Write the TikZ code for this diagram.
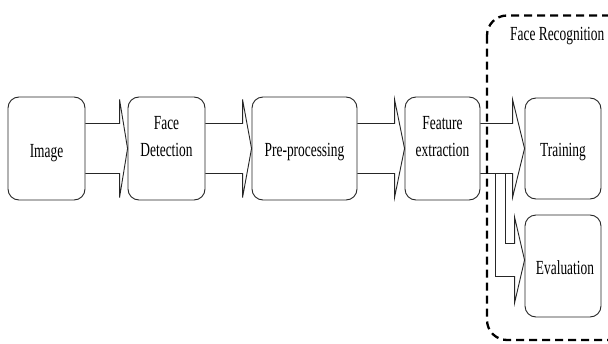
\documentclass[tikz,border=0pt]{standalone}
\usepackage{fontspec}
\setmainfont{Liberation Serif}
\newfontfamily\narrowserif[FakeStretch=0.67]{Liberation Serif}
\usetikzlibrary{calc}

% block arrow from the right side of one stage to the left side of the next
% #1 source node, #2 target node, #3 depth of the arrow head
\newcommand\stagearrow[3]{%
  \draw[arrowline] ($(#1.east)+(0,-25)$) -- ($(#2.west)+(-#3,-25)$)
    -- ($(#2.west)+(-#3,-49)$) -- (#2.west) -- ($(#2.west)+(-#3,49)$)
    -- ($(#2.west)+(-#3,25)$) -- ($(#1.east)+(0,25)$);}

\begin{document}
\begin{tikzpicture}[x=1pt,y=-1pt,
  stagebox/.style={draw=black!85, line width=0.9pt, rounded corners=11pt,
    minimum height=103pt, inner sep=0pt},
  stagetext/.style={font=\narrowserif\fontsize{20}{27}\selectfont,
    inner sep=0pt, anchor=base},
  arrowline/.style={draw=black!85, line width=0.9pt, line join=miter},
  groupline/.style={draw=black, line width=2.3pt,
    dash pattern=on 8pt off 5pt, rounded corners=20pt}]

\path[use as bounding box, fill=white] (0,0) rectangle (608,343);

% processing stages
\node[stagebox, minimum width=77pt]  (img)   at (46.5,148.5) {};
\node[stagebox, minimum width=77pt]  (det)   at (166.5,148.5) {};
\node[stagebox, minimum width=105pt] (pre)   at (304.5,148.5) {};
\node[stagebox, minimum width=75pt]  (feat)  at (442.5,148.5) {};
\node[stagebox, minimum width=76pt, minimum height=101pt] (train) at (563,148.5) {};
\node[stagebox, minimum width=76pt, minimum height=102pt] (eval)  at (563,266) {};

% stage labels
\node[stagetext] (img-t)    at (46.5,157)  {Image};
\node[stagetext] (det-t1)   at (166.5,129) {Face};
\node[stagetext] (det-t2)   at (166.5,156) {Detection};
\node[stagetext] (pre-t)    at (304.5,156.5) {Pre-processing};
\node[stagetext] (feat-t1)  at (442.5,129) {Feature};
\node[stagetext] (feat-t2)  at (442.5,156) {extraction};
\node[stagetext] (train-t)  at (563,156)   {Training};
\node[stagetext] (eval-t)   at (565,274)   {Evaluation};

% block arrows between the stages
\stagearrow{img}{det}{8}
\stagearrow{det}{pre}{9}
\stagearrow{pre}{feat}{10}
\stagearrow{feat}{train}{12}

% bent branch down to the evaluation stage
\coordinate (evaltip) at ($(eval.west)+(0,-6)$);
\draw[arrowline] ($(feat.east)+(15,25)$) |- ($(evaltip)+(-10,16.5)$)
  -- ($(evaltip)+(-10,43)$) -- (evaltip) -- ($(evaltip)+(-10,-43)$)
  -- ($(evaltip)+(-10,-16.5)$) -| ($(feat.east)+(25,25)$);

% face recognition group
\draw[groupline] (487,15.5) rectangle (650,340);
\node[stagetext, anchor=base west] (group-t) at (510,40) {Face Recognition};
\end{tikzpicture}
\end{document}
